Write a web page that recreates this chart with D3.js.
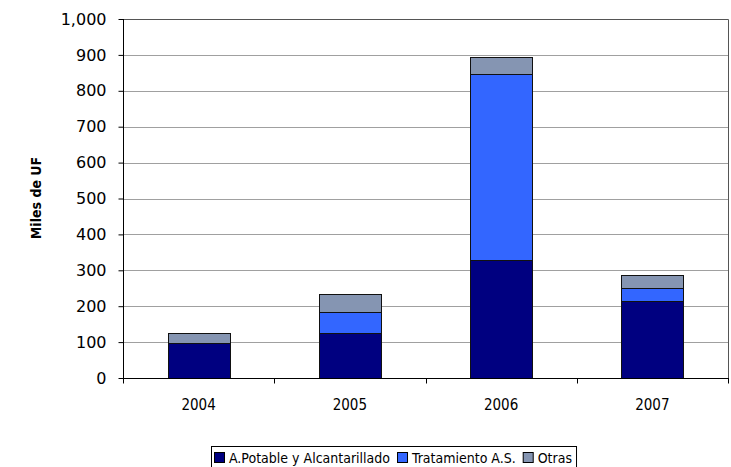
<!DOCTYPE html>
<html>
  <head>
    <style>
      body { margin: 0; background: #fff; }
      svg text { font-family: "DejaVu Sans Condensed", "DejaVu Sans", sans-serif; fill: #000; }
      .grid line { stroke: #a0a0a0; }
      .axis path, .axis line { stroke: #000; }
    </style>
  </head>
  <body>
    <svg class="chart" width="731" height="467"></svg>

    <script src="https://d3js.org/d3.v7.min.js"></script>
    <script type="text/javascript">
      const years = ["2004", "2005", "2006", "2007"];
      const seriesNames = ["A.Potable y Alcantarillado", "Tratamiento A.S.", "Otras"];
      const potable = [98, 124, 328, 214];
      const tratamiento = [0, 59, 519, 37];
      const otras = [26, 52, 46, 35];
      const yTicks = [0, 100, 200, 300, 400, 500, 600, 700, 800, 900, 1000];
      const colors = ["#000080", "#3366ff", "#8595b2"];

      (function() {
        const svg = d3.select(".chart");
        const left = 123, right = 728, top = 19, bottom = 378;

        const x = d3.scaleBand().domain(years).range([left, right]).paddingInner(0.59).paddingOuter(0.295);
        const xb = d3.scaleBand().domain(years).range([left, right]);
        const y = d3.scaleLinear().domain([0, 1000]).range([bottom, top]);

        const rows = years.map(function(yr, i) {
          return { year: yr, p: potable[i], t: tratamiento[i], o: otras[i] };
        });
        const stack = d3.stack().keys(["p", "t", "o"])(rows);

        // gridlines
        svg.append("g").attr("class", "grid")
          .selectAll("line").data(yTicks.slice(1, -1)).enter().append("line")
          .attr("x1", left).attr("x2", right)
          .attr("y1", function(d) { return Math.round(y(d)) + 0.5; })
          .attr("y2", function(d) { return Math.round(y(d)) + 0.5; });

        // plot frame top/right
        svg.append("path")
          .attr("d", "M" + left + "," + (top + 0.5) + "H" + (right + 0.5) + "V" + bottom)
          .attr("fill", "none").attr("stroke", "#555");

        // bars
        svg.append("g").selectAll("g").data(stack).enter().append("g")
          .attr("fill", function(d, i) { return colors[i]; })
          .selectAll("rect").data(function(d) { return d; }).enter().append("rect")
          .filter(function(d) { return d[1] - d[0] > 0; })
          .attr("x", function(d) { return Math.round(x(d.data.year)) + 0.5; })
          .attr("width", Math.round(x.bandwidth()))
          .attr("y", function(d) { return Math.round(y(d[1])) + 0.5; })
          .attr("height", function(d) { return Math.round(y(d[0])) - Math.round(y(d[1])); })
          .attr("stroke", "#111").attr("stroke-width", 1);

        // y axis
        svg.append("g").attr("class", "axis")
          .attr("transform", "translate(" + (left + 0.5) + ",0)")
          .call(d3.axisLeft(y).tickValues(yTicks).tickSize(5).tickPadding(12).tickFormat(d3.format(",")))
          .call(function(g) {
            g.select(".domain").remove();
            g.append("line").attr("y1", top).attr("y2", bottom + 1).attr("stroke", "#000");
            g.selectAll("text").attr("font-size", 16).style("font-family", "DejaVu Sans, sans-serif");
          });

        // x axis
        const xAxis = svg.append("g").attr("class", "axis")
          .attr("transform", "translate(0," + (bottom + 0.5) + ")");
        xAxis.append("line").attr("x1", left).attr("x2", right + 1).attr("stroke", "#000");
        xAxis.selectAll(".tk").data([left].concat(years.map(function(d) { return xb(d) + xb.bandwidth(); })))
          .enter().append("line").attr("class", "tk")
          .attr("x1", function(d) { return Math.round(d) + 0.5; })
          .attr("x2", function(d) { return Math.round(d) + 0.5; })
          .attr("y1", 0).attr("y2", 5).attr("stroke", "#000");
        xAxis.selectAll("text").data(years).enter().append("text")
          .attr("x", function(d) { return xb(d) + xb.bandwidth() / 2; })
          .attr("y", 31).attr("text-anchor", "middle").attr("font-size", 15)
          .text(function(d) { return d; });

        // y label
        svg.append("text")
          .attr("transform", "translate(41,198) rotate(-90)")
          .attr("text-anchor", "middle").attr("font-size", 14).attr("font-weight", "bold")
          .text("Miles de UF");

        // legend
        const lg = svg.append("g");
        const box = lg.append("rect").attr("x", 211.5).attr("y", 446.5).attr("height", 30)
          .attr("fill", "#fff").attr("stroke", "#000");
        let cx = 214;
        seriesNames.forEach(function(name, i) {
          const item = lg.append("g").attr("transform", "translate(" + cx + ",0)");
          item.append("rect").attr("x", 0.5).attr("y", 452.5).attr("width", 10).attr("height", 10)
            .attr("fill", colors[i]).attr("stroke", "#000");
          const t = item.append("text").attr("x", 15).attr("y", 463).attr("font-size", 14).text(name);
          cx += 15 + t.node().getComputedTextLength() + 7;
        });
        box.attr("width", cx - 211 - 3);
      })()
    </script>
  </body>
</html>
